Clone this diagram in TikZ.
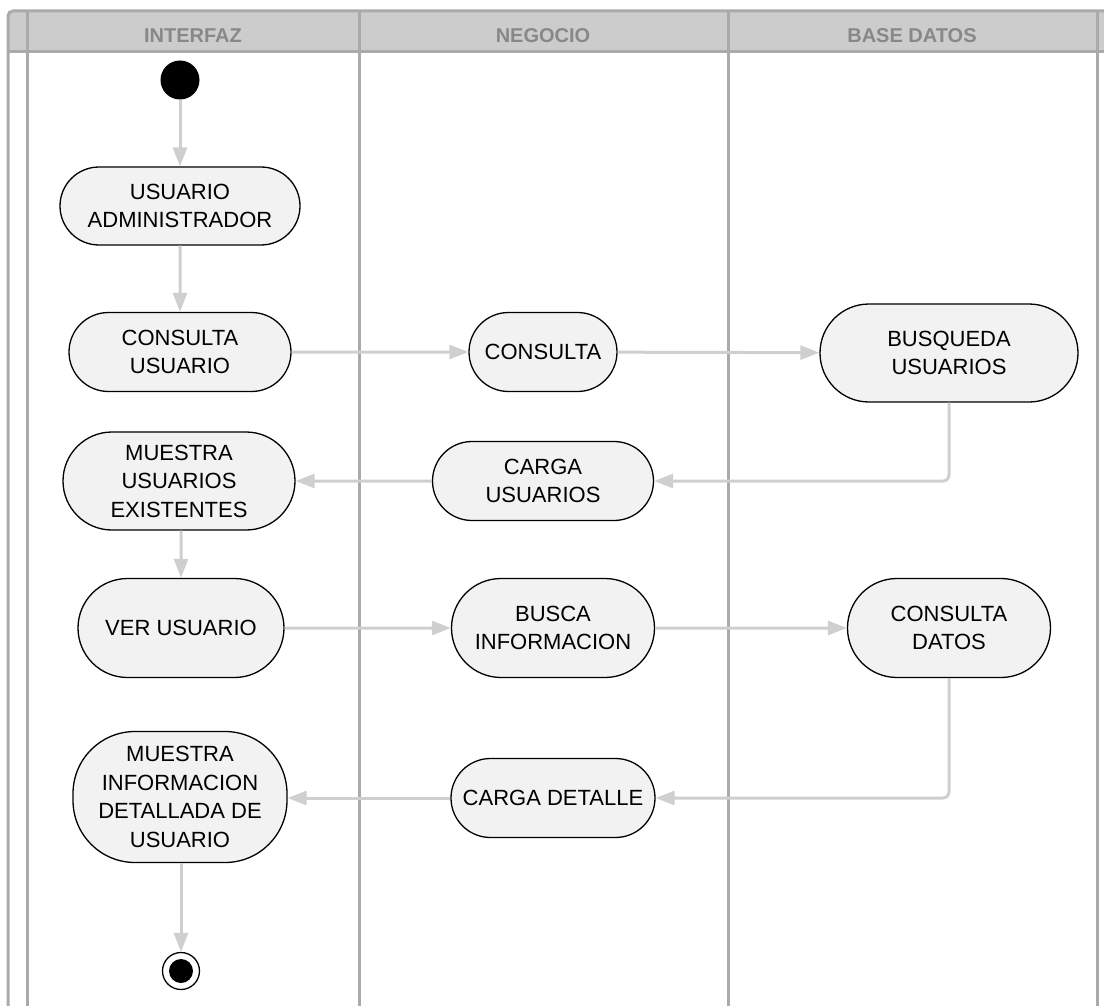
\documentclass[tikz,border=0pt]{standalone}
\usepackage{fontspec}
\setmainfont{Liberation Sans}
\usetikzlibrary{arrows.meta,shapes.misc}
\definecolor{lanegray}{HTML}{AAAAAA}
\definecolor{headfill}{HTML}{CCCCCC}
\definecolor{headtext}{HTML}{888888}
\definecolor{conngray}{HTML}{CFCFCF}
\definecolor{nodefill}{HTML}{F2F2F2}
\begin{document}
\begin{tikzpicture}[x=1pt,y=-1pt,
  lane/.style={draw=lanegray,line width=3pt},
  headlabel/.style={font=\fontsize{20}{24}\selectfont\bfseries,text=headtext},
  actbase/.style={draw=black,fill=nodefill,line width=1.3pt,
    align=center,inner sep=0pt,font=\fontsize{22}{28.5}\selectfont},
  act/.style={actbase,rounded rectangle,rounded rectangle arc length=180},
  acttall/.style={actbase,rectangle,rounded corners=62pt},
  arr/.style={draw=conngray,line width=3pt,-{Triangle[length=19pt,width=14pt]}},
  startnode/.style={circle,fill=black,minimum size=39pt,inner sep=0pt},
  endouter/.style={circle,draw=black,fill=white,line width=1.3pt,minimum size=37pt,inner sep=0pt}
]
\useasboundingbox (0,0) rectangle (1104,1006);
% header band
\fill[headfill,rounded corners=5pt] (8,52) -- (8,11) -- (1115,11) -- (1115,52) -- cycle;
\draw[lane] (8,52) -- (1110,52);
\draw[lane,rounded corners=5pt] (8,1010) -- (8,11) -- (1115,11);
\foreach \x in {27,359,728,1097} \draw[lane] (\x,11) -- (\x,1010);
\node[headlabel] (h1) at (193,36) {INTERFAZ};
\node[headlabel] (h2) at (543,36) {NEGOCIO};
\node[headlabel] (h3) at (912,36) {BASE DATOS};
% nodes
\node[startnode] (start) at (180,80) {};
\node[act,minimum width=240pt,minimum height=78pt] (ua) at (180,206) {USUARIO\\ADMINISTRADOR};
\node[act,minimum width=222pt,minimum height=79pt] (cu) at (180,352) {CONSULTA\\USUARIO};
\node[act,minimum width=148pt,minimum height=79pt] (cons) at (543,352) {CONSULTA};
\node[act,minimum width=258pt,minimum height=98pt] (busq) at (949,353) {BUSQUEDA\\USUARIOS};
\node[act,minimum width=232pt,minimum height=98pt] (mue) at (179,481) {MUESTRA\\USUARIOS\\EXISTENTES};
\node[act,minimum width=221pt,minimum height=79pt] (cargu) at (543,481) {CARGA\\USUARIOS};
\node[act,minimum width=206pt,minimum height=99pt] (ver) at (181,628) {VER USUARIO};
\node[act,minimum width=203pt,minimum height=99pt] (busca) at (553,628) {BUSCA\\INFORMACION};
\node[act,minimum width=203pt,minimum height=99pt] (cdat) at (949,628) {CONSULTA\\DATOS};
\node[acttall,minimum width=214pt,minimum height=131pt] (mui) at (180,797) {MUESTRA\\INFORMACION\\DETALLADA DE\\USUARIO};
\node[act,minimum width=204pt,minimum height=79pt] (cdet) at (553,798) {CARGA DETALLE};
\node[endouter] (fin) at (181,971) {};
\node[circle,fill=black,minimum size=24pt,inner sep=0pt] (fininner) at (fin.center) {};
% connectors
\draw[arr] (start) -- (ua);
\draw[arr] (ua) -- (cu);
\draw[arr] (cu) -- (cons);
\draw[arr] (cons) -- (busq);
\draw[arr,rounded corners=6pt] (busq.south) |- (cargu.east);
\draw[arr] (cargu) -- (mue);
\draw[arr] (mue.south -| ver.north) -- (ver);
\draw[arr] (ver) -- (busca);
\draw[arr] (busca) -- (cdat);
\draw[arr,rounded corners=6pt] (cdat.south) |- (cdet.east);
\draw[arr] (cdet) -- (mui.east |- cdet);
\draw[arr] (mui.south -| fin.north) -- (fin);
\end{tikzpicture}
\end{document}
